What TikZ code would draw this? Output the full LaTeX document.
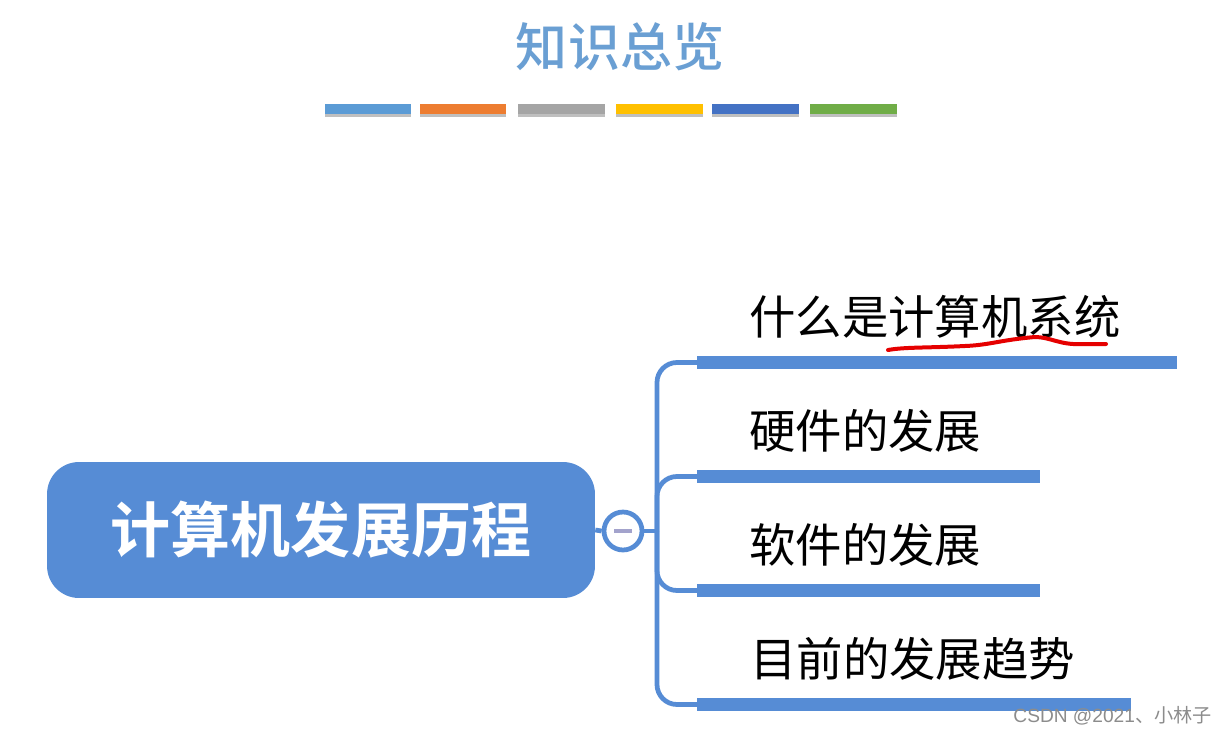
\documentclass[tikz,border=0pt]{standalone}
\usepackage{fontspec}
\usepackage{xcolor}
\newfontfamily\cjk{Noto Sans CJK SC}
\newfontfamily\cjkmid{Noto Sans CJK SC Medium}
\newfontfamily\cjkbold{Noto Sans CJK SC Bold}
\setsansfont{Liberation Sans}
\definecolor{MapBlue}{HTML}{568CD5}
\definecolor{TitleBlue}{HTML}{6A9FD3}
\definecolor{MinusGrey}{HTML}{A3A3CC}
\usetikzlibrary{shadows}
\tikzset{
  stripe/.style={minimum width=1.74cm, minimum height=0.2cm, inner sep=0pt, drop shadow={shadow xshift=0pt, shadow yshift=-0.05cm, opacity=0.25, fill=black}},
  bar/.style={fill=MapBlue, anchor=west, minimum height=0.26cm, inner sep=0pt},
  item/.style={anchor=west, inner sep=0pt, font=\cjk\fontsize{26.4}{30}\selectfont},
  link/.style={MapBlue, line width=0.095cm, rounded corners=0.4cm}
}

\begin{document}
\begin{tikzpicture}[x=0.02cm, y=-0.02cm]
\useasboundingbox (0, 0) rectangle (1227, 734);
\fill[white] (0, 0) rectangle (1227, 734);

\node[text=TitleBlue, inner sep=0pt, font=\cjkmid\fontsize{29.6}{34}\selectfont] (title) at (620, 47) {知识总览};

\node[stripe, fill={rgb,255:red,91;green,155;blue,213}] (stripeA) at (368, 109) {};
\node[stripe, fill={rgb,255:red,237;green,125;blue,49}] (stripeB) at (463, 109) {};
\node[stripe, fill={rgb,255:red,165;green,165;blue,165}] (stripeC) at (561.5, 109) {};
\node[stripe, fill={rgb,255:red,255;green,192;blue,0}] (stripeD) at (659, 109) {};
\node[stripe, fill={rgb,255:red,68;green,114;blue,196}] (stripeE) at (755, 109) {};
\node[stripe, fill={rgb,255:red,112;green,173;blue,71}] (stripeF) at (853, 109) {};

\node[fill=MapBlue, rounded corners=0.64cm, minimum width=10.96cm, minimum height=2.72cm, inner sep=0pt, text=white, font=\cjkbold\fontsize{34.2}{40}\selectfont] (root) at (321, 530) {计算机发展历程};

\node[bar, minimum width=9.6cm] (barA) at (697, 362.5) {};
\node[bar, minimum width=6.86cm] (barB) at (697, 476.5) {};
\node[bar, minimum width=6.86cm] (barC) at (697, 590.5) {};
\node[bar, minimum width=8.68cm] (barD) at (697, 704.5) {};

\node[item] (itemA) at (749, 316.5) {什么是计算机系统};
\node[item] (itemB) at (749, 430.5) {硬件的发展};
\node[item] (itemC) at (749, 544.5) {软件的发展};
\node[item] (itemD) at (750, 658.5) {目前的发展趋势};

\node[circle, draw=MapBlue, line width=0.095cm, fill=white, minimum size=0.76cm, inner sep=0pt] (toggle) at (623, 531) {};
\node[fill=MinusGrey, minimum width=0.36cm, minimum height=0.08cm, inner sep=0pt] (minus) at (toggle) {};
\coordinate (fork) at (657, 531);

\draw[link] (root.east) -- (toggle.west);
\draw[link] (toggle.east) -- (fork);
\draw[link] (fork) |- (barA.west);
\draw[link] (fork) |- (barB.west);
\draw[link] (fork) |- (barC.west);
\draw[link] (fork) |- (barD.west);

\draw[red!90!black, line width=0.08cm, line cap=round] (888, 350) .. controls (905, 347) and (925, 348) .. (965, 346) .. controls (990, 345) and (1000, 340) .. (1035, 337) .. controls (1050, 337) and (1060, 345) .. (1080, 344) -- (1106, 344);

\node[anchor=east, inner sep=0pt, text=black!45, font=\sffamily\fontsize{10.9}{14}\selectfont] (mark) at (1212, 716) {CSDN @2021{\cjk、小林子}};
\end{tikzpicture}
\end{document}
